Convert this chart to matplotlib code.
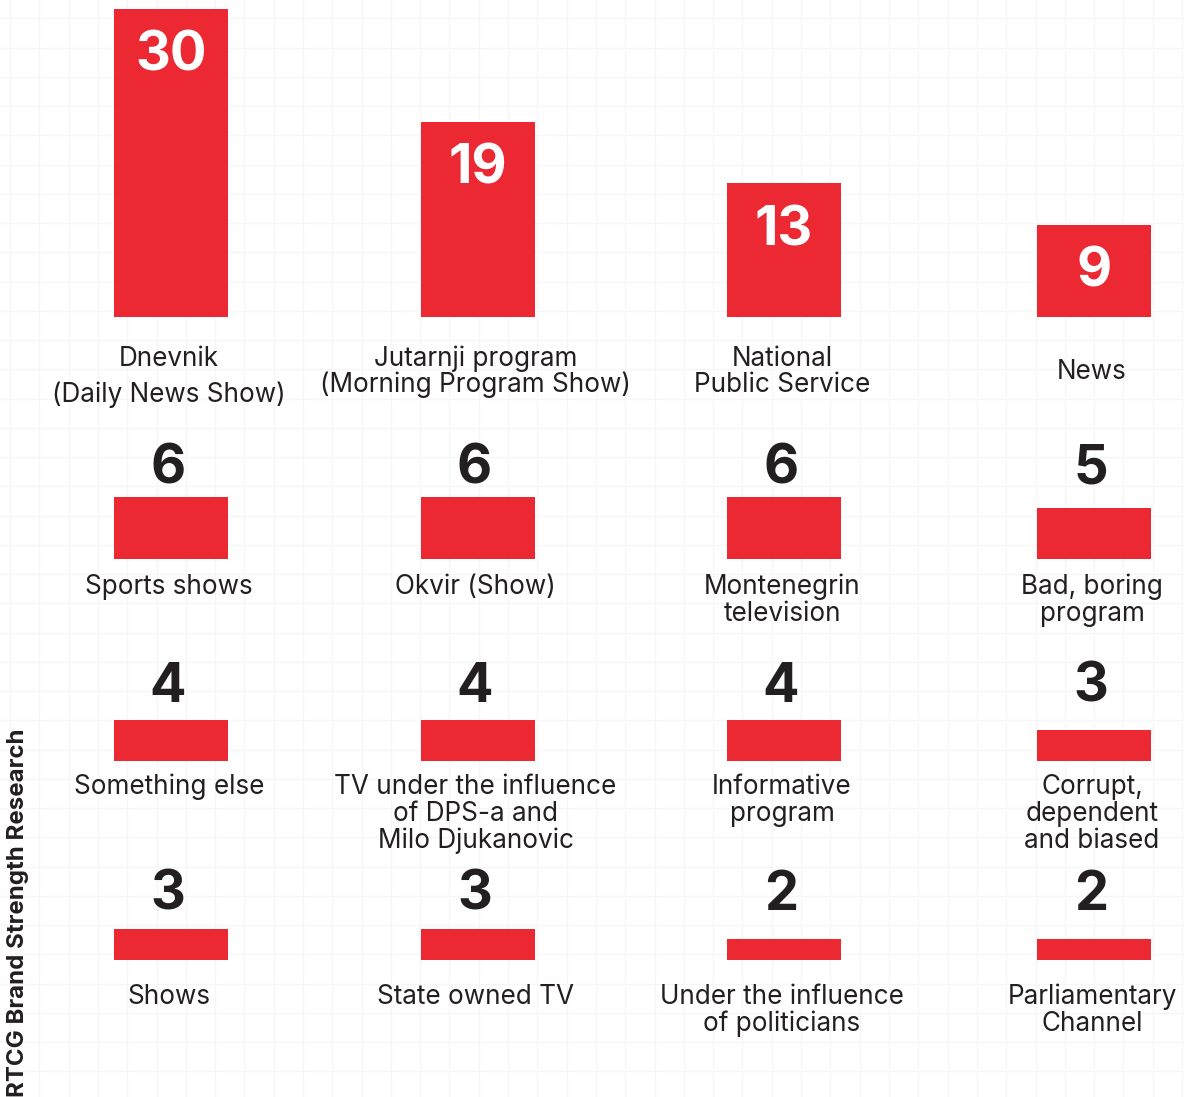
import numpy as np
import matplotlib
matplotlib.use("Agg")
import matplotlib.pyplot as plt

# ---- data ----
categories = [
    "Dnevnik\n(Daily News Show)", "Jutarnji program\n(Morning Program Show)", "National\nPublic Service", "News",
    "Sports shows", "Okvir (Show)", "Montenegrin\ntelevision", "Bad, boring\nprogram",
    "Something else", "TV under the influence\nof DPS-a and\nMilo Djukanovic", "Informative\nprogram", "Corrupt,\ndependent\nand biased",
    "Shows", "State owned TV", "Under the influence\nof politicians", "Parliamentary\nChannel",
]
values = [30, 19, 13, 9,
          6, 6, 6, 5,
          4, 4, 4, 3,
          3, 3, 2, 2]
value_labels = [str(v) for v in values]
title = "RTCG Brand Strength Research"

# ---- style / layout ----
RED = "#EC2833"
DARK = "#231F20"
GRID = "#F6F6F6"
W, H = 1184, 1097
PX_PER_UNIT = 10.27
col_x = [171, 477.5, 784, 1094]
bar_w = 114
row_base = [317, 559, 761, 960]
row_num_baseline = [None, 484, 702, 910]
row_label_baseline = [365.5, 594.5, 794.5, 1004.5]
line_gap = 26.5
FONT = "Inter"

fig = plt.figure(figsize=(W / 100, H / 100), dpi=100)
ax = fig.add_axes([0, 0, 1, 1])
ax.set_xlim(0, W)
ax.set_ylim(H, 0)
ax.axis("off")

# faint background grid
for gx in np.arange(10, W, 29.3):
    ax.axvline(gx, color=GRID, lw=0.9, zorder=0)
for gy in np.arange(18.3, H, 29.25):
    ax.axhline(gy, color=GRID, lw=0.9, zorder=0)

for i, (cat, v, vl) in enumerate(zip(categories, values, value_labels)):
    r, c = divmod(i, 4)
    x = col_x[c]
    h = v * PX_PER_UNIT
    ax.bar(x, h, width=bar_w, bottom=row_base[r] - h, color=RED, zorder=2)
    if r == 0:
        ax.text(x, row_base[r] - h + 62, vl, color="white", fontsize=39,
                fontweight="bold", family=FONT, ha="center", va="baseline", zorder=3)
    else:
        ax.text(x - 3, row_num_baseline[r], vl, color=DARK, fontsize=39,
                fontweight="bold", family=FONT, ha="center", va="baseline", zorder=3)
    lines = cat.split("\n")
    gap = 36.5 if i == 0 else line_gap
    if r == 0 and len(lines) == 1:
        y0 = row_label_baseline[r] + line_gap / 2
    else:
        y0 = row_label_baseline[r]
    for k, ln in enumerate(lines):
        ax.text(x - 2, y0 + k * gap, ln, color=DARK, fontsize=18.8,
                family=FONT, ha="center", va="baseline", zorder=3)

fig.text(18 / W, 0, title, rotation=90, ha="center", va="bottom",
         fontsize=17.3, fontweight="bold", family=FONT, color=DARK)

fig.savefig("out.png", dpi=100, facecolor="white")
